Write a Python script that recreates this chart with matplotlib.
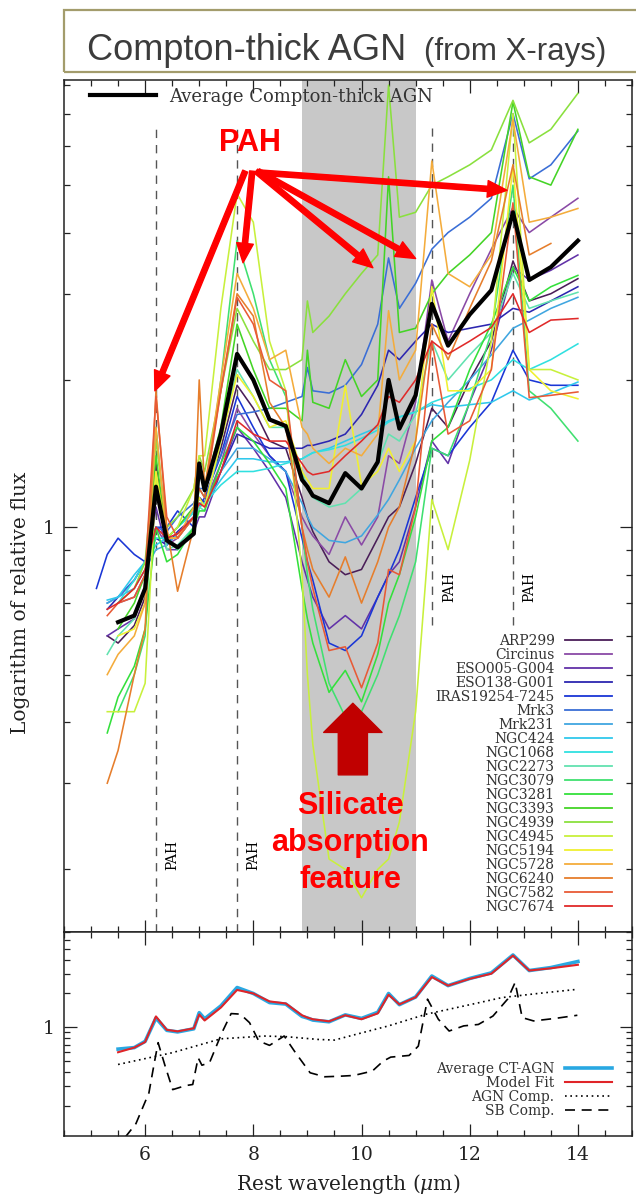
import numpy as np
import matplotlib.pyplot as plt
from matplotlib import ticker
from matplotlib.lines import Line2D
from matplotlib.patches import Rectangle

plt.rcParams['font.family'] = ['DejaVu Serif']
plt.rcParams['mathtext.fontset'] = 'dejavuserif'

nan = np.nan

# rest wavelength grid (micron) shared by all spectra
lam = [5.1, 5.3, 5.5, 5.8, 6.0, 6.2, 6.4, 6.6, 6.9, 7.0, 7.1, 7.4, 7.7, 8.0, 8.3, 8.6, 8.9,
       9.0, 9.1, 9.4, 9.7, 10.0, 10.3, 10.5, 10.7, 11.0, 11.3, 11.6, 12.0, 12.4, 12.8, 13.1,
       13.5, 14.0]

# relative flux of each source
arp299 = [nan, 0.6, 0.58, 0.63, 0.72, 1.35, 0.95, 0.95, 1.05, 1.15, 1.12, 1.45, 1.95, 1.75, 1.5, 1.45, 1.15,
          1.05, 0.98, 0.85, 0.80, 0.82, 0.95, 1.05, 1.1, 1.35, 1.75, 1.6, 2.0, 2.4, 3.5, 2.9, 3.0, 3.22]
circinus = [nan, nan, 0.70, 0.72, 0.80, 1.0, 0.92, 0.95, 1.05, 1.15, 1.12, 1.35, 1.75, 1.55, 1.4, 1.3, 1.05,
            1.0, 0.96, 0.88, 1.05, 0.92, 1.05, 1.4, 1.35, 1.8, 3.2, 2.4, 3.0, 3.7, 4.5, 4.0, 4.3, 4.7]
eso005 = [nan, 0.6, 0.62, 0.65, 0.75, 1.1, 0.9, 0.9, 0.98, 1.05, 1.05, 1.3, 1.6, 1.45, 1.3, 1.15, 0.85,
          0.78, 0.72, 0.62, 0.66, 0.62, 0.72, 0.8, 0.85, 1.1, 1.5, 1.35, 1.8, 2.3, 3.4, 3.2, 3.35, 3.6]
eso138 = [nan, 0.68, 0.72, 0.78, 0.85, 0.95, 0.92, 0.98, 1.05, 1.15, 1.12, 1.3, 1.55, 1.5, 1.45, 1.45, 1.45,
          1.47, 1.47, 1.5, 1.55, 1.7, 1.95, 2.3, 2.2, 2.4, 2.6, 2.5, 2.55, 2.6, 2.8, 2.75, 2.9, 3.1]
iras19254 = [0.75, 0.88, 0.95, 0.88, 0.85, 1.0, 1.0, 1.08, 1.0, 1.1, 1.15, 1.4, 1.85, 1.6, 1.4, 1.3, 0.95,
             0.85, 0.78, 0.58, 0.56, 0.6, 0.72, 0.8, 0.9, 1.15, 1.45, 1.4, 1.6, 1.8, 2.3, 2.0, 1.95, 1.95]
mrk3 = [nan, 0.7, 0.72, 0.78, 0.85, 1.0, 0.98, 1.05, 1.12, 1.2, 1.2, 1.4, 1.7, 1.72, 1.75, 1.8, 1.85,
        2.12, 1.9, 1.88, 1.95, 2.15, 2.6, 3.55, 2.8, 3.15, 3.7, 4.0, 4.3, 4.7, 7.0, 5.15, 5.5, 6.45]
mrk231 = [nan, 0.7, 0.72, 0.75, 0.82, 0.9, 0.92, 0.97, 1.05, 1.1, 1.12, 1.3, 1.45, 1.45, 1.38, 1.3, 1.12,
          1.05, 1.0, 0.94, 0.93, 0.96, 1.06, 1.14, 1.25, 1.45, 1.65, 1.8, 2.0, 2.25, 2.55, 2.65, 2.8, 2.95]
ngc424 = [nan, 0.71, 0.72, 0.8, 0.85, 0.92, 0.95, 1.0, 1.08, 1.12, 1.12, 1.25, 1.38, 1.38, 1.36, 1.36, 1.38,
          1.4, 1.42, 1.45, 1.5, 1.55, 1.6, 1.65, 1.68, 1.72, 1.78, 1.76, 1.78, 1.8, 1.9, 1.82, 1.88, 1.98]
ngc1068 = [nan, nan, 0.7, 0.78, 0.85, 0.95, 0.95, 1.0, 1.07, 1.1, 1.12, 1.22, 1.3, 1.3, 1.32, 1.35, 1.38,
           1.4, 1.42, 1.44, 1.47, 1.52, 1.58, 1.64, 1.68, 1.72, 1.8, 1.85, 1.92, 2.0, 2.2, 2.1, 2.2, 2.37]
ngc2273 = [nan, 0.55, 0.6, 0.65, 0.75, 1.3, 0.9, 0.92, 1.0, 1.1, 1.08, 1.5, 2.1, 1.85, 1.6, 1.6, 1.3,
           1.2, 1.15, 1.1, 1.12, 1.2, 1.35, 1.55, 1.5, 1.7, 2.4, 2.0, 2.25, 2.5, 3.3, 2.8, 2.9, 3.02]
ngc3079 = [nan, nan, 0.42, 0.5, 0.6, 1.6, 0.95, 0.9, 1.0, 1.2, 1.15, 2.0, 3.85, 3.0, 2.2, 1.85, 1.0,
           0.8, 0.68, 0.48, 0.41, 0.42, 0.5, 0.58, 0.66, 0.85, 1.45, 1.4, 1.8, 2.5, 5.0, 1.9, 1.75, 1.5]
ngc3281 = [nan, 0.38, 0.45, 0.52, 0.62, 1.0, 0.85, 0.88, 1.0, 1.08, 1.08, 1.35, 1.6, 1.5, 1.35, 1.2, 0.75,
           0.65, 0.58, 0.46, 0.51, 0.44, 0.55, 0.7, 0.8, 1.05, 1.5, 1.6, 2.1, 2.6, 3.4, 2.9, 3.1, 3.27]
ngc3393 = [nan, nan, 0.62, 0.7, 0.8, 1.4, 0.95, 1.0, 1.1, 1.3, 1.2, 1.6, 2.6, 2.1, 1.75, 1.75, 1.65,
           2.3, 1.8, 1.75, 2.2, 1.85, 2.0, 5.2, 2.5, 2.55, 3.0, 3.3, 3.6, 4.0, 7.4, 5.2, 5.0, 6.5]
ngc4939 = [nan, nan, 0.7, 0.75, 0.85, 1.5, 1.0, 1.05, 1.2, 1.4, 1.3, 1.9, 2.8, 2.4, 2.1, 2.1, 2.2,
           2.9, 2.5, 2.7, 3.0, 3.3, 3.6, 8.0, 4.3, 4.4, 5.0, 5.2, 5.5, 5.9, 7.45, 6.1, 6.5, 7.7]
ngc4945 = [nan, 0.42, 0.42, 0.42, 0.48, 1.25, 0.95, 1.0, 1.2, 1.4, 1.4, 2.8, 4.8, 4.2, 2.4, 1.9, 0.8,
           0.5, 0.36, 0.21, 0.2, 0.175, 0.2, 0.21, 0.25, 0.42, 1.14, 0.9, 1.37, 2.4, 7.0, 2.1, 2.1, 2.0]
ngc5194 = [nan, nan, 0.6, 0.62, 0.7, 1.3, 0.95, 0.95, 1.05, 1.15, 1.1, 1.5, 2.05, 1.85, 1.6, 1.65, 1.3,
           1.25, 1.2, 1.2, 1.95, 1.22, 1.3, 1.45, 1.3, 1.5, 3.1, 1.9, 1.9, 2.1, 5.5, 2.1, 1.9, 1.83]
ngc5728 = [nan, 0.5, 0.55, 0.6, 0.7, 1.6, 0.95, 0.95, 1.1, 1.3, 1.2, 2.0, 3.3, 2.8, 2.2, 2.3, 1.6,
           1.55, 1.45, 1.35, 1.45, 1.4, 1.55, 2.77, 2.0, 2.3, 5.6, 3.3, 3.1, 3.6, 6.8, 4.2, 4.3, 4.48]
ngc6240 = [nan, 0.3, 0.35, 0.5, 0.62, 1.9, 1.0, 0.74, 1.0, 2.0, 1.2, 1.9, 3.0, 2.7, 1.8, 1.6, 1.0,
           0.9, 0.82, 0.72, 0.87, 0.7, 0.85, 1.0, 1.1, 1.5, 2.6, 2.2, 2.8, 3.5, 5.5, 3.6, 3.8, nan]
ngc7582 = [nan, 0.66, 0.7, 0.72, 0.8, 1.85, 1.05, 0.95, 1.05, 1.2, 1.15, 1.9, 2.95, 2.6, 2.0, 1.9, 1.0,
           0.85, 0.75, 0.56, 0.57, 0.47, 0.58, 0.82, 0.8, 1.1, 2.4, 1.55, 1.65, 2.1, 4.6, 1.84, 1.86, 1.89]
ngc7674 = [nan, 0.68, 0.7, 0.75, 0.82, 1.0, 0.95, 0.97, 1.05, 1.12, 1.1, 1.3, 1.65, 1.55, 1.5, 1.5, 1.35,
           1.3, 1.28, 1.3, 1.4, 1.5, 1.62, 1.85, 1.8, 2.0, 2.4, 2.26, 2.4, 2.56, 3.0, 2.5, 2.65, 2.67]

# average of the sample and the two-component model fit
average = [nan, nan, 0.64, 0.66, 0.75, 1.21, 0.94, 0.91, 0.97, 1.35, 1.19, 1.55, 2.26, 2.0, 1.66, 1.61, 1.25,
           1.21, 1.16, 1.12, 1.29, 1.2, 1.36, 2.0, 1.59, 1.86, 2.86, 2.35, 2.72, 3.05, 4.4, 3.2, 3.4, 3.85]
model_fit = [nan, nan, 0.60, 0.66, 0.74, 1.25, 0.95, 0.92, 0.98, 1.3, 1.15, 1.5, 2.15, 2.0, 1.7, 1.63, 1.28,
             1.22, 1.18, 1.13, 1.28, 1.18, 1.33, 1.95, 1.6, 1.85, 2.8, 2.35, 2.7, 3.0, 4.35, 3.2, 3.35, 3.6]

agn_lam = [5.5, 6.5, 7.4, 8.2, 8.6, 9.2, 9.5, 9.9, 10.5, 11.2, 11.9, 12.6, 13.3, 14.0]
agn_comp = [0.467, 0.594, 0.79, 0.836, 0.826, 0.78, 0.77, 0.866, 1.03, 1.31, 1.55, 1.84, 2.01, 2.18]

sb_lam = [5.63, 5.83, 6.07, 6.17, 6.24, 6.37, 6.51, 6.75, 6.88, 6.98, 7.05, 7.19, 7.42, 7.59, 7.76,
          7.93, 8.10, 8.30, 8.57, 8.78, 9.05, 9.32, 9.59, 9.86, 10.2, 10.4, 10.54, 10.88, 11.05, 11.22,
          11.42, 11.62, 11.89, 12.16, 12.43, 12.70, 12.84, 12.97, 13.18, 13.58, 13.99]
sb_comp = [0.105, 0.139, 0.261, 0.484, 0.730, 0.452, 0.279, 0.303, 0.310, 0.536, 0.46, 0.484, 0.897,
           1.325, 1.31, 1.10, 0.755, 0.691, 0.837, 0.594, 0.394, 0.363, 0.367, 0.373, 0.408, 0.50,
           0.543, 0.562, 0.681, 1.78, 1.18, 0.927, 1.03, 1.06, 1.26, 1.78, 2.51, 1.22, 1.14, 1.20, 1.28]

names = ['ARP299', 'Circinus', 'ESO005-G004', 'ESO138-G001', 'IRAS19254-7245', 'Mrk3', 'Mrk231',
         'NGC424', 'NGC1068', 'NGC2273', 'NGC3079', 'NGC3281', 'NGC3393', 'NGC4939', 'NGC4945',
         'NGC5194', 'NGC5728', 'NGC6240', 'NGC7582', 'NGC7674']
spectra = [arp299, circinus, eso005, eso138, iras19254, mrk3, mrk231, ngc424, ngc1068, ngc2273,
           ngc3079, ngc3281, ngc3393, ngc4939, ngc4945, ngc5194, ngc5728, ngc6240, ngc7582, ngc7674]
colors = ['#4a1e58', '#8a4aa6', '#6232a8', '#2c26b0', '#1a36d6', '#3a6ed6', '#40a6e0', '#30c8ec',
          '#30e0e0', '#62e2b0', '#40e070', '#34e03c', '#44d426', '#8ae03e', '#c8f03c', '#f0f030',
          '#f4ac3c', '#e67e2c', '#e85a36', '#e02a2a']

# PAH band positions and how far down each marker line runs
pah_lines = [6.2, 7.7, 11.3, 12.8]
pah_line_bottom = [0.149, 0.149, 0.63, 0.63]
silicate_band = (8.9, 11.0)

fig = plt.figure(figsize=(6.36, 11.97), dpi=100)
ax = fig.add_axes([0.1006, 0.2214, 0.8931, 0.7118])
ax2 = fig.add_axes([0.1006, 0.0510, 0.8931, 0.1704])

# title box
fig.add_artist(Rectangle((64 / 636, 1 - 72 / 1197), 580 / 636, 62 / 1197, transform=fig.transFigure,
                         fill=False, edgecolor='#a39c6c', lw=1.6))
fig.text(87 / 636, 1 - 60 / 1197, 'Compton-thick AGN', fontsize=26, color='#3c3c3c',
         family='Liberation Sans', va='baseline')
fig.text(424 / 636, 1 - 60 / 1197, '(from X-rays)', fontsize=22.5, color='#3c3c3c',
         family='Liberation Sans', va='baseline')

# ---- upper panel: individual spectra ----
ax.axvspan(*silicate_band, color='#c8c8c8', lw=0, zorder=0)
ax.vlines(pah_lines, pah_line_bottom, 6.55, colors='#555555', linestyles=(0, (6, 5)), lw=1.0,
          zorder=1)

for flux, col, name in zip(spectra, colors, names):
    ax.plot(lam, flux, color=col, lw=1.15, label=name, zorder=2)
avg_line, = ax.plot(lam, average, color='black', lw=3, zorder=3)

ax.set_xlim(4.5, 15)
ax.set_yscale('log')
ax.set_ylim(0.149, 8.2)

# PAH arrows
ax.text(7.94, 6.1, 'PAH', color='red', fontsize=22, fontweight='bold', family='Liberation Sans',
        ha='center', va='center', zorder=6)
pah_targets = [(6.18, 1.90), (7.81, 3.47), (10.21, 3.39), (11.0, 3.54), (12.69, 4.88)]
pah_tails = [(7.85, 5.34), (7.98, 5.34), (8.05, 5.34), (8.09, 5.34), (8.16, 5.30)]
for head, tail in zip(pah_targets, pah_tails):
    ax.annotate('', xy=head, xytext=tail,
                arrowprops=dict(facecolor='red', edgecolor='red', width=3.8, headwidth=12,
                                headlength=14, shrink=0), zorder=6)

# silicate arrow and label
ax.annotate('', xy=(9.84, 0.437), xytext=(9.84, 0.312),
            arrowprops=dict(facecolor='#c00000', edgecolor='#c00000', width=21, headwidth=42,
                            headlength=21, shrink=0), zorder=6)
ax.text(9.79, 0.2265, 'Silicate\nabsorption\nfeature', color='red', fontsize=22, fontweight='bold',
        family='Liberation Sans', ha='center', va='center', linespacing=1.3, zorder=6)

# PAH markers along the dashed lines
for x, y in [(6.5, 0.214), (8.0, 0.214), (11.62, 0.754), (13.11, 0.754)]:
    ax.text(x, y, 'PAH', rotation=90, fontsize=10, ha='center', va='center', zorder=5)

leg1 = ax.legend([avg_line], ['Average Compton-thick AGN'], loc='upper left',
                 bbox_to_anchor=(0.045, 0.991), frameon=False, fontsize=13, handlelength=3.7,
                 handletextpad=0.7, borderpad=0, borderaxespad=0)
for t in leg1.get_texts():
    t.set_color('#333333')
ax.add_artist(leg1)
handles = [Line2D([], [], color=c, lw=1.3) for c in colors]
leg2 = ax.legend(handles, names, loc='lower right', bbox_to_anchor=(0.965, 0.021), frameon=False,
                 fontsize=10, markerfirst=False, handlelength=3.4, handletextpad=0.75,
                 labelspacing=0.0, borderpad=0, borderaxespad=0)
for t in leg2.get_texts():
    t.set_color('#333333')

# ---- lower panel: average vs model ----
ax2.plot(lam, average, color='#29a8e2', lw=2.6, label='Average CT-AGN')
ax2.plot(lam, model_fit, color='#e02428', lw=1.5, label='Model Fit')
ax2.plot(agn_lam, agn_comp, color='black', lw=1.2, ls=(0, (1, 2.2)), label='AGN Comp.')
ax2.plot(sb_lam, sb_comp, color='black', lw=1.2, ls=(0, (6, 4)), label='SB Comp.')
ax2.set_xlim(4.5, 15)
ax2.set_yscale('log')
ax2.set_ylim(0.108, 7.05)
leg3 = ax2.legend(loc='lower right', bbox_to_anchor=(0.965, 0.088), frameon=False, fontsize=10,
                  markerfirst=False, handlelength=3.4, handletextpad=0.75, labelspacing=0.0,
                  borderpad=0, borderaxespad=0)
for t in leg3.get_texts():
    t.set_color('#333333')

for a in (ax, ax2):
    a.xaxis.set_major_locator(ticker.FixedLocator([6, 8, 10, 12, 14]))
    a.xaxis.set_minor_locator(ticker.MultipleLocator(0.5))
    a.yaxis.set_major_locator(ticker.FixedLocator([1]))
    a.yaxis.set_major_formatter(ticker.FixedFormatter(['1']))
    a.yaxis.set_minor_locator(ticker.LogLocator(base=10, subs=np.arange(2, 10), numticks=20))
    a.yaxis.set_minor_formatter(ticker.NullFormatter())
    a.tick_params(which='both', direction='in', top=True, right=True, width=0.9, colors='#222222',
                  labelsize=13.5, pad=7)
    a.tick_params(which='major', length=9)
    a.tick_params(which='minor', length=4.5)
    for s in a.spines.values():
        s.set_linewidth(1.1)
        s.set_color('#222222')

ax.tick_params(labelbottom=False)
ax.set_ylabel('Logarithm of relative flux', fontsize=14.5, color='#222222')
ax.yaxis.set_label_coords(-0.06, 0.386)
ax2.set_xlabel(r'Rest wavelength ($\mu$m)', fontsize=14.5, color='#222222')
ax2.xaxis.set_label_coords(0.5, -0.175)

fig.savefig('out.png', dpi=100)
